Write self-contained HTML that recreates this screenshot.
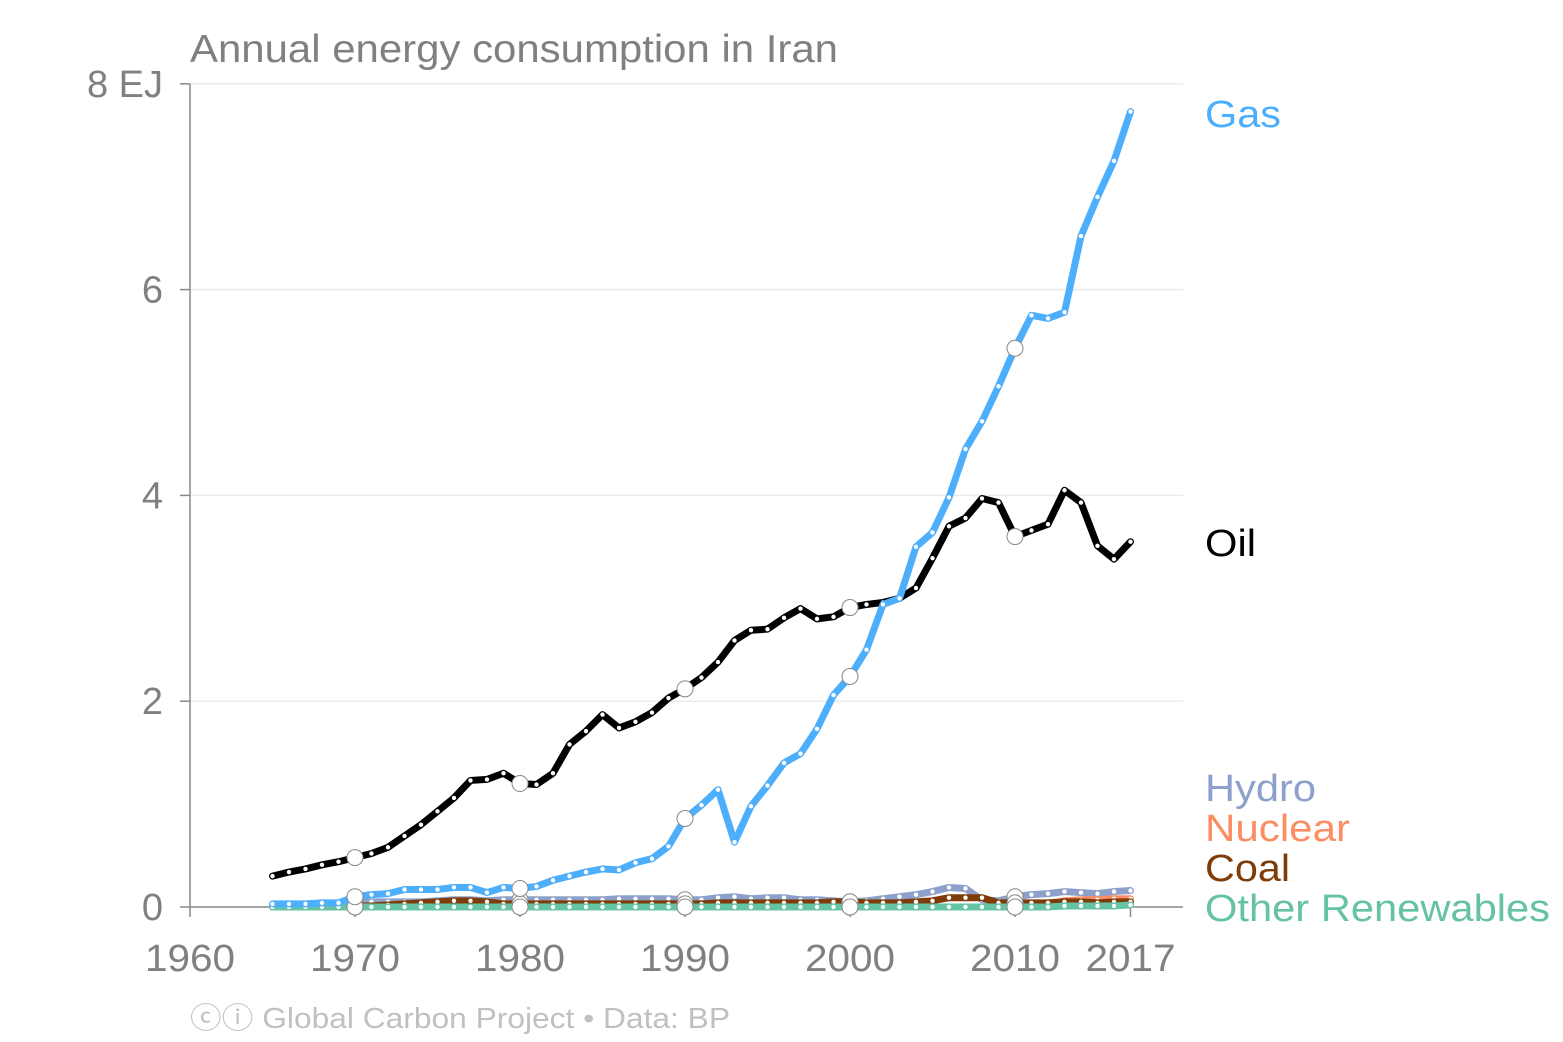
<!DOCTYPE html>
<html><head><meta charset="utf-8"><style>
html,body{margin:0;padding:0;background:#fff;}
svg{display:block;font-family:"Liberation Sans",Arial,sans-serif;}
</style></head><body>
<svg id="chart" width="1563" height="1042" viewBox="0 0 1563 1042"></svg>
<script>
const years=[];for(let y=1965;y<=2017;y++)years.push(y);
const oil=[0.30,0.34,0.37,0.41,0.44,0.48,0.52,0.58,0.69,0.80,0.93,1.06,1.23,1.24,1.30,1.20,1.19,1.30,1.58,1.71,1.87,1.74,1.80,1.89,2.03,2.12,2.23,2.38,2.59,2.69,2.70,2.81,2.90,2.80,2.82,2.91,2.94,2.96,3.00,3.10,3.39,3.70,3.78,3.97,3.93,3.60,3.66,3.72,4.05,3.93,3.51,3.38,3.55];
const gas=[0.03,0.03,0.03,0.04,0.04,0.10,0.12,0.13,0.17,0.17,0.17,0.19,0.19,0.14,0.19,0.18,0.20,0.26,0.30,0.34,0.37,0.36,0.43,0.47,0.59,0.86,0.99,1.14,0.63,0.98,1.18,1.40,1.49,1.73,2.06,2.24,2.50,2.94,3.00,3.50,3.64,3.98,4.45,4.72,5.06,5.43,5.75,5.72,5.78,6.52,6.90,7.25,7.73];
const hydro=[0.02,0.02,0.02,0.03,0.04,0.05,0.05,0.05,0.05,0.05,0.06,0.07,0.07,0.06,0.07,0.07,0.07,0.07,0.07,0.07,0.07,0.08,0.08,0.08,0.08,0.07,0.07,0.09,0.10,0.08,0.09,0.09,0.07,0.07,0.06,0.05,0.06,0.08,0.10,0.12,0.15,0.19,0.18,0.07,0.06,0.10,0.12,0.13,0.15,0.14,0.13,0.15,0.16];
const coal=[0.01,0.01,0.01,0.01,0.01,0.01,0.01,0.02,0.03,0.04,0.05,0.06,0.06,0.05,0.03,0.03,0.03,0.03,0.03,0.03,0.03,0.03,0.03,0.03,0.03,0.03,0.03,0.04,0.04,0.04,0.04,0.04,0.04,0.04,0.05,0.05,0.04,0.04,0.04,0.05,0.06,0.09,0.09,0.09,0.04,0.04,0.04,0.04,0.05,0.05,0.04,0.05,0.05];
const nuclear=[0,0,0,0,0,0,0,0,0,0,0,0,0,0,0,0,0,0,0,0,0,0,0,0,0,0,0,0,0,0,0,0,0,0,0,0,0,0,0,0,0,0,0,0,0,0,0.01,0.03,0.06,0.07,0.07,0.08,0.08];
const renew=[0,0,0,0,0,0,0,0,0,0,0,0,0,0,0,0,0,0,0,0,0,0,0,0,0,0,0,0,0,0,0,0,0,0,0,0,0,0,0,0,0,0,0,0,0,0,0,0,0.01,0.01,0.01,0.01,0.02];
const yTicks=[0,2,4,6,8];
const xTicks=[1960,1970,1980,1990,2000,2010,2017];
const NS="http://www.w3.org/2000/svg";
const svg=document.getElementById('chart');
const X=y=>190+(y-1960)*16.5;
const Y=v=>907-v*102.9;
function el(t,a,p){const e=document.createElementNS(NS,t);for(const k in a)e.setAttribute(k,a[k]);(p||svg).appendChild(e);return e;}
yTicks.forEach(v=>{
 if(v>0){const g=el('line',{x1:190,x2:1183,y1:Y(v),y2:Y(v),stroke:'#ebebeb','stroke-width':1.5});
 
 }
 const tk=el('line',{x1:180,x2:190,y1:Y(v),y2:Y(v),stroke:'#888','stroke-width':1.5});
 
 
 const t=el('text',{x:163,y:Y(v)+13,'text-anchor':'end','font-size':38,fill:'#808080'});
 t.textContent=v===8?'8 EJ':String(v);
 
 
});
const ya=el('line',{x1:190,x2:190,y1:84,y2:907,stroke:'#888','stroke-width':1.5});


const xa=el('line',{x1:190,x2:1183,y1:907,y2:907,stroke:'#888','stroke-width':1.5});


xTicks.forEach(y=>{
 const tk=el('line',{x1:X(y),x2:X(y),y1:907,y2:917,stroke:'#888','stroke-width':1.5});
 
 
 const t=el('text',{x:X(y),y:971,'text-anchor':'middle','font-size':38,fill:'#808080',textLength:90,lengthAdjust:'spacingAndGlyphs'});
 t.textContent=String(y);
 
 
});
const series=[
 ['hydro',hydro,'#8da0cb'],['nuclear',nuclear,'#fc8d62'],['coal',coal,'#7f3b08'],
 ['other-renewables',renew,'#66c2a5'],['oil',oil,'#000000'],['gas',gas,'#4daefc']];
series.forEach(([n,d,c])=>{
 const g=el('g',{});
 
 
 const p=el('path',{d:d.map((v,i)=>(i?'L':'M')+X(years[i])+','+Y(v)).join(''),fill:'none',stroke:c,'stroke-width':7,'stroke-linejoin':'round','stroke-linecap':'round'},g);
 
 
 d.forEach((v,i)=>{
  const big=years[i]%10===0;
  const pt=el('circle',{cx:X(years[i]),cy:Y(v),r:big?8:2.2,fill:'#fff',stroke:big?'#888':'none','stroke-width':1},g);
  
  
 });
});
const labels=[['Gas',127,'#4daefc',76],['Oil',556,'#000',51],['Hydro',801,'#8da0cb',111],['Nuclear',841,'#fc8d62',145],['Coal',881,'#7f3b08',85],['Other Renewables',921,'#66c2a5',345]];
labels.forEach(([t,y,c,w])=>{
 const e=el('text',{x:1205,y:y,'font-size':38,fill:c,textLength:w,lengthAdjust:'spacingAndGlyphs'});
 e.textContent=t;
 
 
});
const title=el('text',{x:190,y:62,'font-size':39,fill:'#808080',textLength:648,lengthAdjust:'spacingAndGlyphs'});
title.textContent='Annual energy consumption in Iran';


const foot=el('text',{x:190,y:1028,'font-size':29,fill:'#c0c0c0',textLength:540,lengthAdjust:'spacingAndGlyphs'});
foot.textContent='\u24D2\u24D8 Global Carbon Project  \u2022  Data: BP';


</script>
</body></html>
